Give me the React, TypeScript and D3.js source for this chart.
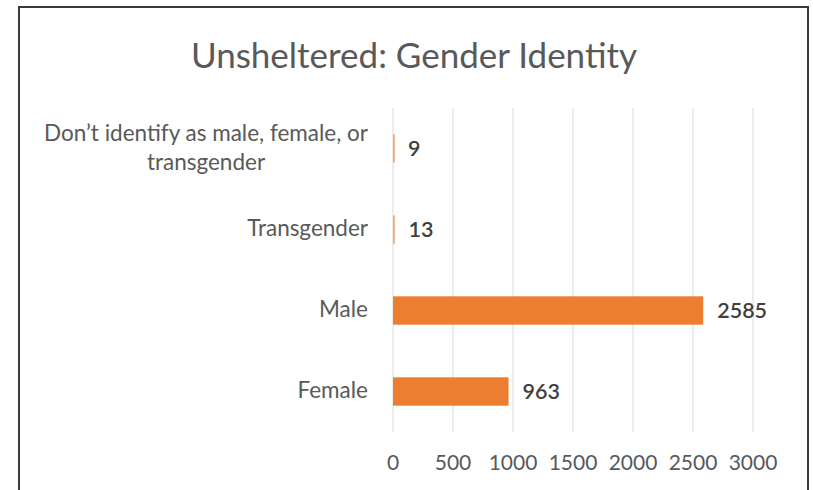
import React, { useLayoutEffect, useRef, useState } from "react";
import * as d3 from "d3";

const categories = ["Don't identify as male, female, or transgender", "Transgender", "Male", "Female"];
const categoryLines = [["Don\u2019t identify as male, female, or", "transgender"], ["Transgender"], ["Male"], ["Female"]];
const values = [9, 13, 2585, 963];
const xTicks = [0, 500, 1000, 1500, 2000, 2500, 3000];
const title = "Unsheltered: Gender Identity";

const W = 813;
const H = 490;
const FONT = "Lato, 'Open Sans', sans-serif";
const LABEL_RIGHT = 368;

function CategoryLabel({ lines, cy }: { lines: string[]; cy: number }) {
  const ref = useRef<SVGGElement>(null);
  const [blockW, setBlockW] = useState(0);
  useLayoutEffect(() => {
    if (ref.current) {
      const texts = ref.current.querySelectorAll("text");
      let m = 0;
      texts.forEach((t) => {
        m = Math.max(m, (t as SVGTextElement).getComputedTextLength());
      });
      setBlockW(m);
    }
  }, []);
  const lh = 29;
  const startY = cy - ((lines.length - 1) * lh) / 2 - 1;
  const cx = LABEL_RIGHT - blockW / 2;
  return (
    <g ref={ref}>
      {lines.map((l, j) => (
        <text
          key={j}
          x={lines.length > 1 ? cx : LABEL_RIGHT}
          y={startY + j * lh}
          dy="0.35em"
          textAnchor={lines.length > 1 ? "middle" : "end"}
          fontFamily={FONT}
          fontSize={22.5}
          fill="#595959"
        >
          {l}
        </text>
      ))}
    </g>
  );
}

export default function App() {
  const x = d3.scaleLinear().domain([0, 3000]).range([393, 753]);
  const y = d3.scaleBand<string>().domain(categories).range([108, 432]).padding(0);
  const barH = y.step() * 0.35;

  return (
    <svg width={W} height={H} style={{ position: "absolute", left: 0, top: 0, background: "#fff" }}>
      <rect x={0} y={0} width={W} height={H} fill="#fff" />
      <rect x={19} y={7} width={789} height={500} fill="none" stroke="#3a3a3a" strokeWidth={2} />
      <text x={414} y={68} textAnchor="middle" fontFamily={FONT} fontSize={35} fill="#595959">
        {title}
      </text>
      {xTicks.map((t) => (
        <g key={t}>
          <line x1={x(t)} x2={x(t)} y1={108} y2={432} stroke="#d9d9d9" strokeWidth={1} />
          <text x={x(t)} y={470} textAnchor="middle" fontFamily={FONT} fontSize={21} fill="#595959">
            {t}
          </text>
        </g>
      ))}
      {categories.map((c, i) => {
        const cy = (y(c) as number) + y.step() / 2;
        const w = Math.max(x(values[i]) - x(0), 2);
        return (
          <g key={c}>
            <rect x={x(0)} y={cy - barH / 2} width={w} height={barH} fill="#ED7D31" opacity={values[i] < 50 ? 0.55 : 1} />
            <CategoryLabel lines={categoryLines[i]} cy={cy} />
            <text
              x={x(values[i]) + 14}
              y={cy}
              dy="0.35em"
              fontFamily={FONT}
              fontSize={21.5}
              fontWeight={600}
              fill="#404040"
            >
              {values[i]}
            </text>
          </g>
        );
      })}
    </svg>
  );
}
